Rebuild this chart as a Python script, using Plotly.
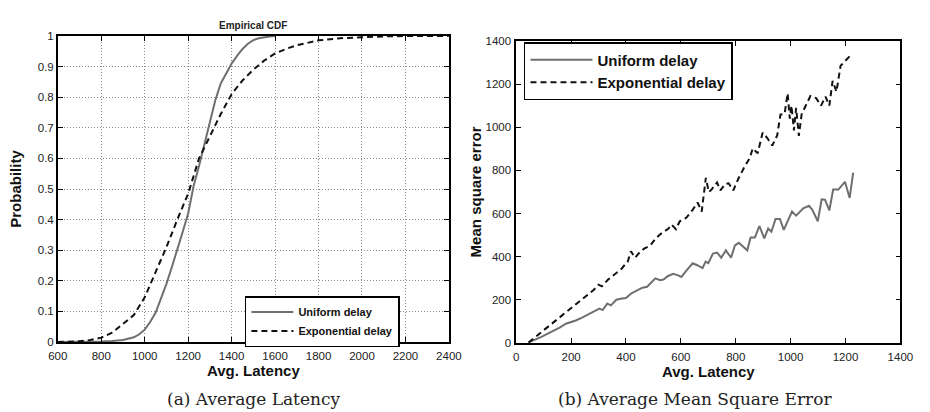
import plotly.graph_objects as go

# ---- (a) empirical CDF of average latency ----
cdf_uniform_x = [600, 700, 800, 850, 900, 950, 975, 1000, 1025, 1050, 1075, 1100, 1125, 1150,
                 1175, 1200, 1225, 1250, 1275, 1300, 1325, 1350, 1375, 1400, 1425, 1450, 1475,
                 1500, 1525, 1550, 1575, 1600]
cdf_uniform_y = [0, 0, 0.001, 0.003, 0.006, 0.015, 0.025, 0.04, 0.065, 0.095, 0.14, 0.19, 0.245,
                 0.3, 0.36, 0.42, 0.51, 0.575, 0.645, 0.71, 0.79, 0.845, 0.88, 0.91, 0.935, 0.958,
                 0.975, 0.987, 0.993, 0.997, 0.999, 1.0]

cdf_exp_x = [600, 650, 700, 750, 800, 850, 900, 950, 1000, 1050, 1100, 1150, 1200, 1250, 1300,
             1350, 1400, 1450, 1500, 1550, 1600, 1650, 1700, 1750, 1800, 1900, 2000, 2100, 2200, 2400]
cdf_exp_y = [0, 0, 0.002, 0.006, 0.014, 0.03, 0.058, 0.088, 0.146, 0.225, 0.31, 0.4, 0.485, 0.6,
             0.675, 0.745, 0.81, 0.855, 0.89, 0.92, 0.943, 0.958, 0.97, 0.979, 0.986, 0.993,
             0.997, 0.999, 1.0, 1.0]

# ---- (b) mean square error vs. average latency ----
mse_uniform_x = [45, 70, 92, 115, 140, 160, 181, 200, 217, 240, 258, 280, 303, 315, 332, 345, 365,
                 385, 400, 420, 442, 460, 477, 492, 507, 524, 537, 552, 572, 590, 602, 620, 643,
                 660, 679, 690, 700, 717, 732, 747, 764, 783, 797, 811, 826, 842, 854, 870, 886,
                 904, 918, 930, 945, 961, 975, 1005, 1020, 1046, 1067, 1079, 1099, 1113, 1125,
                 1141, 1155, 1174, 1198, 1215, 1228]
mse_uniform_y = [2, 15, 28, 43, 58, 72, 89, 96, 104, 117, 129, 142, 159, 152, 182, 174, 200, 206,
                 208, 230, 246, 256, 260, 280, 299, 291, 294, 309, 320, 313, 306, 335, 369, 360,
                 347, 377, 370, 414, 419, 395, 429, 395, 452, 464, 446, 429, 489, 489, 542, 485,
                 530, 516, 575, 575, 524, 609, 590, 624, 636, 617, 564, 666, 664, 614, 711, 711,
                 747, 672, 789]

mse_exp_x = [45, 81, 110, 140, 169, 199, 229, 258, 282, 300, 312, 335, 350, 365, 385, 400, 406,
             418, 433, 450, 466, 489, 507, 525, 543, 555, 566, 582, 596, 619, 643, 661, 676, 685,
             691, 702, 711, 732, 744, 762, 774, 791, 809, 833, 851, 862, 880, 898, 915, 933, 951,
             963, 978, 989, 997, 1003, 1012, 1020, 1030, 1040, 1058, 1072, 1093, 1111, 1127,
             1141, 1153, 1167, 1182, 1200, 1218]
mse_exp_y = [2, 39, 69, 99, 129, 162, 192, 222, 245, 270, 262, 294, 310, 324, 345, 369, 375, 425,
             395, 420, 437, 452, 482, 504, 519, 530, 549, 527, 564, 579, 617, 651, 609, 700, 765,
             699, 710, 744, 707, 737, 740, 707, 760, 819, 857, 902, 879, 975, 950, 915, 962, 1059,
             1062, 1157, 1040, 1100, 985, 1090, 960, 1060, 1112, 1145, 1135, 1100, 1142, 1100,
             1215, 1165, 1285, 1307, 1333]

GRAY = "#6f6f6f"
BLACK = "#111111"
DASH = "6px,4px"
SANS = "Liberation Sans"
SERIF = "DejaVu Serif"

fig = go.Figure()

fig.add_trace(go.Scatter(x=cdf_uniform_x, y=cdf_uniform_y, mode="lines", name="<b>Uniform delay</b>",
                         line=dict(color=GRAY, width=2), xaxis="x", yaxis="y", legend="legend"))
fig.add_trace(go.Scatter(x=cdf_exp_x, y=cdf_exp_y, mode="lines", name="<b>Exponential delay</b>",
                         line=dict(color=BLACK, width=2, dash=DASH), xaxis="x", yaxis="y",
                         legend="legend"))
fig.add_trace(go.Scatter(x=mse_uniform_x, y=mse_uniform_y, mode="lines", name="<b>Uniform delay</b>",
                         line=dict(color=GRAY, width=2), xaxis="x2", yaxis="y2", legend="legend2"))
fig.add_trace(go.Scatter(x=mse_exp_x, y=mse_exp_y, mode="lines", name="<b>Exponential delay</b>",
                         line=dict(color=BLACK, width=2, dash=DASH), xaxis="x2", yaxis="y2",
                         legend="legend2"))

axis_common = dict(showline=True, linecolor="black", linewidth=1.5, mirror="allticks",
                   ticks="inside", ticklen=5, tickcolor="black", zeroline=False,
                   tickfont=dict(family=SANS, size=11.5, color="#222"))
title_font = dict(family=SANS, size=15, color="#111")
grid = dict(showgrid=True, gridcolor="#8a8a8a", griddash="1px,2px", gridwidth=1)

fig.update_layout(
    width=930, height=412,
    margin=dict(l=0, r=0, t=0, b=0),
    paper_bgcolor="white", plot_bgcolor="white",
    showlegend=True,
    xaxis=dict(domain=[0.0527, 0.4839], range=[600, 2400], dtick=200, tick0=600,
               title=dict(text="<b>Avg. Latency</b>", font=title_font, standoff=2),
               ticklabelstandoff=3, anchor="y", **grid, **axis_common),
    yaxis=dict(domain=[0.1602, 0.9248], range=[0, 1], dtick=0.1, tick0=0,
               title=dict(text="<b>Probability</b>", font=title_font, standoff=12),
               anchor="x", **grid, **axis_common),
    xaxis2=dict(domain=[0.5581, 0.9817], range=[0, 1400], dtick=200, tick0=0, showgrid=False,
                title=dict(text="<b>Avg. Latency</b>", font=title_font, standoff=2),
                ticklabelstandoff=3, anchor="y2", **axis_common),
    yaxis2=dict(domain=[0.1578, 0.9126], range=[0, 1400], dtick=200, tick0=0, showgrid=False,
                title=dict(text="<b>Mean square error</b>", font=title_font, standoff=0),
                ticklabelstandoff=1, anchor="x2", **axis_common),
    legend=dict(x=0.259, y=0.275, xanchor="left", yanchor="top",
                bgcolor="white", bordercolor="black", borderwidth=1.5,
                font=dict(family=SANS, size=11, color="#111"), tracegroupgap=0,
                itemwidth=42),
    legend2=dict(x=0.5667, y=0.91, xanchor="left", yanchor="top",
                 bgcolor="white", bordercolor="black", borderwidth=1.5,
                 font=dict(family=SANS, size=15, color="#111"), tracegroupgap=0,
                 itemwidth=62),
    annotations=[
        dict(text="<b>Empirical CDF</b>", x=0.2683, y=0.951, xref="paper", yref="paper",
             xanchor="center", yanchor="middle", showarrow=False,
             font=dict(family=SANS, size=10, color="#222")),
        dict(text="(a) Average Latency", x=0.2683, y=0.018, xref="paper", yref="paper",
             xanchor="center", yanchor="middle", showarrow=False,
             font=dict(family=SERIF, size=17, color="#222")),
        dict(text="(b) Average Mean Square Error", x=0.755, y=0.018, xref="paper", yref="paper",
             xanchor="center", yanchor="middle", showarrow=False,
             font=dict(family=SERIF, size=17, color="#222")),
    ],
)

fig.write_html("out.html")
